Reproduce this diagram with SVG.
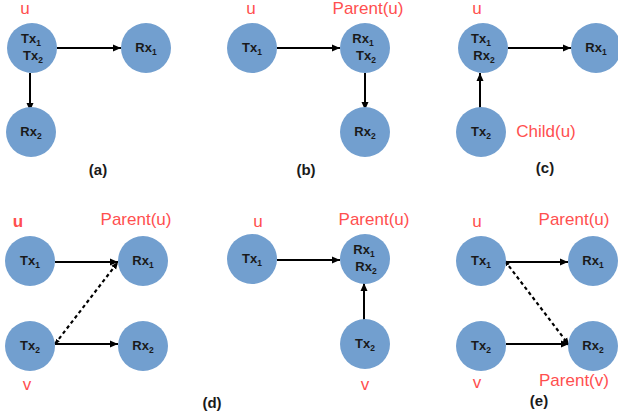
<svg xmlns="http://www.w3.org/2000/svg" width="618" height="417" viewBox="0 0 618 417">
<defs>
<style>
.c{fill:#729fcf}
.n{font-family:"Liberation Sans",Arial,sans-serif;font-weight:bold;font-size:13px;fill:#1a1a1a;text-anchor:middle}
.s{font-size:8.5px}
.r{font-family:"Liberation Sans",Arial,sans-serif;font-size:17px;fill:#ff4f4f;text-anchor:middle}
.cap{font-family:"Liberation Sans",Arial,sans-serif;font-weight:bold;font-size:15px;fill:#1a1a1a;text-anchor:middle}
.e{stroke:#000;stroke-width:2;fill:none;marker-end:url(#ah)}
.d{stroke:#000;stroke-width:2.2;fill:none;stroke-dasharray:3.5,3;marker-end:url(#ahs);marker-start:url(#aht)}
</style>
<marker id="ah" markerUnits="userSpaceOnUse" markerWidth="9" markerHeight="8" refX="8" refY="4" orient="auto"><path d="M0,0.5 L8,4 L0,7.5 z" fill="#000"/></marker>
<marker id="ahs" markerUnits="userSpaceOnUse" markerWidth="8" markerHeight="7" refX="7" refY="3.5" orient="auto"><path d="M0,0.5 L7,3.5 L0,6.5 z" fill="#000"/></marker>
<marker id="aht" markerUnits="userSpaceOnUse" markerWidth="6" markerHeight="6" refX="5" refY="3" orient="auto-start-reverse"><path d="M0,0.8 L5,3 L0,5.2 z" fill="#000"/></marker>
</defs>
<rect width="618" height="417" fill="#fff"/>

<g id="connectors">
<line class="e" x1="57" y1="48" x2="121" y2="48"/>
<line class="e" x1="30" y1="73" x2="30" y2="111"/>
<line class="e" x1="277" y1="48" x2="340" y2="48"/>
<line class="e" x1="365" y1="73" x2="365" y2="110"/>
<line class="e" x1="508" y1="48" x2="571" y2="48"/>
<line class="e" x1="480" y1="108" x2="480" y2="73"/>
<line class="e" x1="55" y1="262" x2="118" y2="262"/>
<line class="e" x1="55" y1="344" x2="118" y2="344"/>
<line class="d" x1="55" y1="344" x2="118" y2="262"/>
<line class="e" x1="277" y1="260" x2="340" y2="260"/>
<line class="e" x1="364" y1="320" x2="364" y2="283"/>
<line class="e" x1="506" y1="262" x2="568" y2="262"/>
<line class="e" x1="506" y1="344" x2="569" y2="344"/>
<line class="d" x1="505" y1="261" x2="569" y2="345"/>
</g>

<g id="a_u">
<circle class="c" cx="32" cy="48" r="25"/>
<text class="n" x="31" y="43">Tx<tspan class="s" dy="3">1</tspan></text>
<text class="n" x="33" y="60">Tx<tspan class="s" dy="3">2</tspan></text>
</g>
<g id="a_rx1"><circle class="c" cx="146" cy="48" r="25"/><text class="n" x="146" y="52">Rx<tspan class="s" dy="3">1</tspan></text></g>
<g id="a_rx2"><circle class="c" cx="31" cy="132" r="25"/><text class="n" x="31" y="136">Rx<tspan class="s" dy="3">2</tspan></text></g>
<text class="r" x="25" y="14">u</text>
<text class="cap" x="98" y="175">(a)</text>

<g id="b_tx1"><circle class="c" cx="252" cy="48" r="25"/><text class="n" x="252" y="52">Tx<tspan class="s" dy="3">1</tspan></text></g>
<g id="b_p">
<circle class="c" cx="365" cy="48" r="25"/>
<text class="n" x="363" y="43">Rx<tspan class="s" dy="3">1</tspan></text>
<text class="n" x="366" y="60">Tx<tspan class="s" dy="3">2</tspan></text>
</g>
<g id="b_rx2"><circle class="c" cx="365" cy="132" r="25"/><text class="n" x="365" y="136">Rx<tspan class="s" dy="3">2</tspan></text></g>
<text class="r" x="251" y="14">u</text>
<text class="r" x="368" y="14">Parent(u)</text>
<text class="cap" x="306" y="175">(b)</text>

<g id="c_u">
<circle class="c" cx="483" cy="48" r="25"/>
<text class="n" x="481" y="43">Tx<tspan class="s" dy="3">1</tspan></text>
<text class="n" x="484" y="60">Rx<tspan class="s" dy="3">2</tspan></text>
</g>
<g id="c_rx1"><circle class="c" cx="596" cy="48" r="25"/><text class="n" x="596" y="52">Rx<tspan class="s" dy="3">1</tspan></text></g>
<g id="c_tx2"><circle class="c" cx="481" cy="132" r="25"/><text class="n" x="481" y="136">Tx<tspan class="s" dy="3">2</tspan></text></g>
<text class="r" x="477" y="14">u</text>
<text class="r" x="546" y="137">Child(u)</text>
<text class="cap" x="545" y="173">(c)</text>

<g id="d_tx1"><circle class="c" cx="30" cy="261" r="25"/><text class="n" x="30" y="265">Tx<tspan class="s" dy="3">1</tspan></text></g>
<g id="d_rx1"><circle class="c" cx="143" cy="261" r="25"/><text class="n" x="143" y="265">Rx<tspan class="s" dy="3">1</tspan></text></g>
<g id="d_tx2"><circle class="c" cx="30" cy="346" r="25"/><text class="n" x="30" y="350">Tx<tspan class="s" dy="3">2</tspan></text></g>
<g id="d_rx2"><circle class="c" cx="143" cy="346" r="25"/><text class="n" x="143" y="350">Rx<tspan class="s" dy="3">2</tspan></text></g>
<text class="r" x="18" y="227" font-weight="bold">u</text>
<text class="r" x="136" y="225">Parent(u)</text>
<text class="r" x="27" y="390">v</text>
<text class="cap" x="212" y="408">(d)</text>

<g id="m_tx1"><circle class="c" cx="252" cy="259" r="25"/><text class="n" x="252" y="263">Tx<tspan class="s" dy="3">1</tspan></text></g>
<g id="m_p">
<circle class="c" cx="365" cy="259" r="25"/>
<text class="n" x="364" y="254">Rx<tspan class="s" dy="3">1</tspan></text>
<text class="n" x="366" y="271">Rx<tspan class="s" dy="3">2</tspan></text>
</g>
<g id="m_tx2"><circle class="c" cx="365" cy="344" r="25"/><text class="n" x="365" y="348">Tx<tspan class="s" dy="3">2</tspan></text></g>
<text class="r" x="258" y="227">u</text>
<text class="r" x="374" y="225">Parent(u)</text>
<text class="r" x="365" y="390">v</text>

<g id="e_tx1"><circle class="c" cx="481" cy="261" r="25"/><text class="n" x="481" y="265">Tx<tspan class="s" dy="3">1</tspan></text></g>
<g id="e_rx1"><circle class="c" cx="593" cy="261" r="25"/><text class="n" x="593" y="265">Rx<tspan class="s" dy="3">1</tspan></text></g>
<g id="e_tx2"><circle class="c" cx="481" cy="346" r="25"/><text class="n" x="481" y="350">Tx<tspan class="s" dy="3">2</tspan></text></g>
<g id="e_rx2"><circle class="c" cx="593" cy="346" r="25"/><text class="n" x="593" y="350">Rx<tspan class="s" dy="3">2</tspan></text></g>
<text class="r" x="477" y="227">u</text>
<text class="r" x="574" y="225">Parent(u)</text>
<text class="r" x="477" y="388">v</text>
<text class="r" x="574" y="386">Parent(v)</text>
<text class="cap" x="539" y="406">(e)</text>
</svg>
